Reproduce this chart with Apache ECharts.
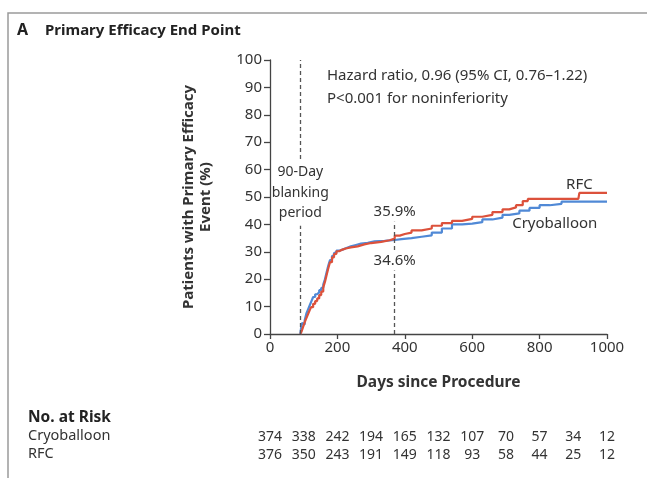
<!DOCTYPE html>
<html>
<head>
<meta charset="utf-8">
<script src="https://cdn.jsdelivr.net/npm/echarts@6/dist/echarts.min.js"></script>
<style>
  html, body { margin: 0; padding: 0; background: #fff; }
  #main { width: 647px; height: 480px; }
</style>
</head>
<body>
<div id="main"></div>
<script>
// Kaplan-Meier style cumulative curves, [day, percent]
var cryoData = [
  [90, 0], [92, 2], [95, 4], [99, 3.5], [103, 5], [108, 7.5], [113, 9], [118, 10.5],
  [123, 12], [128, 13.5], [134, 14.5], [140, 15.2], [146, 16], [152, 16.8], [158, 18],
  [163, 20], [168, 22.5], [173, 25], [178, 27], [184, 28.5], [190, 29.6], [197, 30.4],
  [205, 30.8], [215, 31.3], [225, 32], [240, 32.5], [255, 33], [270, 33.3], [290, 33.8],
  [310, 34], [340, 34.3], [370, 34.6], [390, 35], [420, 35.5], [450, 36], [480, 37],
  [510, 38.5], [540, 40], [570, 40.3], [600, 40.8], [630, 41.8], [660, 42.5],
  [690, 43.5], [710, 44], [740, 45], [770, 46], [800, 47], [830, 47.5], [865, 48.3],
  [1000, 48.3]
];
var rfcData = [
  [90, 0], [94, 1], [98, 2.5], [102, 4], [107, 5.5], [112, 7], [117, 8.5], [122, 9.8],
  [128, 11], [134, 12], [140, 13], [146, 14.2], [152, 15.5], [158, 17], [163, 19],
  [168, 21.5], [173, 24], [178, 26.2], [184, 28], [190, 29.2], [197, 30.2], [205, 30.8],
  [215, 31.2], [225, 31.6], [240, 32], [260, 32.7], [280, 33.2], [300, 33.6], [330, 34.2],
  [355, 34.8], [370, 35.9], [385, 36.5], [400, 37], [420, 37.8], [450, 38.5],
  [480, 39.5], [510, 40.5], [540, 41.3], [570, 42], [600, 42.8], [630, 43.5],
  [660, 44.5], [690, 45.5], [710, 46.2], [730, 47], [750, 48.5], [765, 49.3],
  [915, 49.3], [918, 51.5], [1000, 51.5]
];
var riskDays = [0, 100, 200, 300, 400, 500, 600, 700, 800, 900, 1000];
var riskCryo = [374, 338, 242, 194, 165, 132, 107, 70, 57, 34, 12];
var riskRfc = [376, 350, 243, 191, 149, 118, 93, 58, 44, 25, 12];

var FONT = '"Noto Sans", sans-serif';
var TXT = '#333';
var RED = '#dc513b';
var BLUE = '#5089d6';

var chart = echarts.init(document.getElementById('main'));

var option = {
  animation: false,
  textStyle: { fontFamily: FONT },
  grid: { left: 270, right: 40, top: 60, bottom: 146 },
  xAxis: {
    type: 'value', min: 0, max: 1000, interval: 200,
    name: 'Days since Procedure', nameLocation: 'middle', nameGap: 41,
    nameTextStyle: { fontFamily: FONT, fontSize: 15.5, fontWeight: 'bold', color: TXT },
    axisLine: { lineStyle: { color: '#444', width: 1.3 } },
    axisTick: { length: 5, lineStyle: { color: '#444', width: 1.3 } },
    axisLabel: { fontFamily: FONT, fontSize: 15, color: TXT, margin: 6,
      formatter: function (v) { return String(v); } },
    splitLine: { show: false }
  },
  yAxis: {
    type: 'value', min: 0, max: 100, interval: 10,
    name: 'Patients with Primary Efficacy\nEvent (%)', nameLocation: 'middle',
    nameRotate: 90, nameGap: 56,
    nameTextStyle: { fontFamily: FONT, fontSize: 15, fontWeight: 'bold', color: TXT, lineHeight: 17 },
    axisLine: { show: true, lineStyle: { color: '#444', width: 1.3 } },
    axisTick: { show: true, length: 6, lineStyle: { color: '#444', width: 1.3 } },
    axisLabel: { fontFamily: FONT, fontSize: 15, color: TXT, margin: 8 },
    splitLine: { show: false }
  },
  series: [
    {
      name: 'Cryoballoon', type: 'line', step: 'end', data: cryoData,
      showSymbol: false, lineStyle: { color: BLUE, width: 2.2 }, z: 3,
      markLine: {
        silent: true, symbol: 'none', label: { show: false },
        lineStyle: { color: '#555', type: [4, 3], width: 1.3 },
        data: [
          [{ coord: [90, 0] }, { coord: [90, 100] }],
          [{ coord: [370, 0] }, { coord: [370, 41] }]
        ]
      }
    },
    {
      name: 'RFC', type: 'line', step: 'end', data: rfcData,
      showSymbol: false, lineStyle: { color: RED, width: 2.2 }, z: 4
    }
  ]
};
chart.setOption(option);

function px(d, v) { return chart.convertToPixel({ gridIndex: 0 }, [d, v]); }

var g = [];
// frame
g.push({ type: 'polyline', shape: { points: [[8, 478], [8, 13], [647, 13]] },
  style: { stroke: '#9a9a9a', lineWidth: 1.5, fill: null } });
g.push({ type: 'text', left: 17, top: 22, style: { text: 'A', font: 'bold 16px ' + FONT, fill: '#222' } });
g.push({ type: 'text', left: 45, top: 23, style: { text: 'Primary Efficacy End Point', font: 'bold 15px ' + FONT, fill: '#222' } });

g.push({ type: 'text', left: 327, top: 64, style: {
  text: 'Hazard ratio, 0.96 (95% CI, 0.76–1.22)\nP<0.001 for noninferiority',
  font: '15px ' + FONT, fill: TXT, lineHeight: 23 } });

var p90 = px(90, 51.5);
g.push({ type: 'text', x: p90[0], y: p90[1], style: {
  text: '90-Day\nblanking\nperiod', font: '14px ' + FONT, fill: TXT, lineHeight: 20.5,
  align: 'center', verticalAlign: 'middle', backgroundColor: '#fff', padding: [2, 0] }, z: 10 });

var pA = px(370, 44.5);
g.push({ type: 'text', x: pA[0], y: pA[1], style: {
  text: '35.9%', font: '15px ' + FONT, fill: TXT, align: 'center', verticalAlign: 'middle' }, z: 10 });
var pB = px(370, 26.6);
g.push({ type: 'text', x: pB[0], y: pB[1], style: {
  text: '34.6%', font: '15px ' + FONT, fill: TXT, align: 'center', verticalAlign: 'middle',
  backgroundColor: '#fff', padding: [2, 0] }, z: 10 });

var pR = px(918, 54.5);
g.push({ type: 'text', x: pR[0], y: pR[1], style: {
  text: 'RFC', font: '15px ' + FONT, fill: TXT, align: 'center', verticalAlign: 'middle' } });
var pC = px(845, 40.3);
g.push({ type: 'text', x: pC[0], y: pC[1], style: {
  text: 'Cryoballoon', font: '15px ' + FONT, fill: TXT, align: 'center', verticalAlign: 'middle' } });

// number at risk table
g.push({ type: 'text', left: 28, top: 410, style: { text: 'No. at Risk', font: 'bold 15.5px ' + FONT, fill: '#222' } });
g.push({ type: 'text', left: 28, top: 428, style: { text: 'Cryoballoon', font: '14.5px ' + FONT, fill: TXT } });
g.push({ type: 'text', left: 28, top: 446, style: { text: 'RFC', font: '14.5px ' + FONT, fill: TXT } });
riskDays.forEach(function (d, i) {
  var x = px(d, 0)[0];
  g.push({ type: 'text', x: x, y: 437, style: { text: String(riskCryo[i]), font: '14px ' + FONT,
    fill: TXT, align: 'center', verticalAlign: 'middle' } });
  g.push({ type: 'text', x: x, y: 455, style: { text: String(riskRfc[i]), font: '14px ' + FONT,
    fill: TXT, align: 'center', verticalAlign: 'middle' } });
});

chart.setOption({ graphic: g });
</script>
</body>
</html>
